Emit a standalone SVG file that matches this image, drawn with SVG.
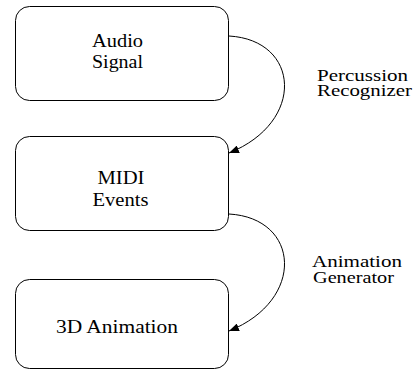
<svg xmlns="http://www.w3.org/2000/svg" width="416" height="370" viewBox="0 0 416 370">
<defs>
<style>
.box{fill:#fff;stroke:#000;stroke-width:1}
.t{font-family:"Liberation Serif","Times New Roman",serif;font-size:18.5px;fill:#000}
.l{font-family:"Liberation Serif","Times New Roman",serif;font-size:17px;fill:#000}
.edge{fill:none;stroke:#000;stroke-width:1}
</style>
<marker id="ah" markerWidth="10" markerHeight="8" refX="10" refY="4" orient="auto" markerUnits="userSpaceOnUse">
<path d="M0,0 L10,4 L0,8 Z" fill="#000"/>
</marker>
</defs>
<g id="audio">
<rect class="box" x="15.5" y="6.5" width="213" height="94" rx="14"/>
<text class="t" x="92" y="47" textLength="51" lengthAdjust="spacingAndGlyphs">Audio</text>
<text class="t" x="92" y="68" textLength="51" lengthAdjust="spacingAndGlyphs">Signal</text>
</g>
<g id="midi">
<rect class="box" x="15.5" y="136.5" width="213" height="94" rx="14"/>
<text class="t" x="97.5" y="184" textLength="47" lengthAdjust="spacingAndGlyphs">MIDI</text>
<text class="t" x="92.5" y="206" textLength="56" lengthAdjust="spacingAndGlyphs">Events</text>
</g>
<g id="anim">
<rect class="box" x="15.5" y="279.5" width="213" height="89" rx="14"/>
<text class="t" x="56" y="333" textLength="122" lengthAdjust="spacingAndGlyphs">3D Animation</text>
</g>
<g id="connectors">
<path class="edge" d="M229,36 C300,40 306,122 229,153" marker-end="url(#ah)"/>
<text class="l" x="317" y="81" textLength="91" lengthAdjust="spacingAndGlyphs">Percussion</text>
<text class="l" x="317" y="96" textLength="95" lengthAdjust="spacingAndGlyphs">Recognizer</text>
<path class="edge" d="M229,214 C300,218 306,300 229,331" marker-end="url(#ah)"/>
<text class="l" x="312" y="267" textLength="90" lengthAdjust="spacingAndGlyphs">Animation</text>
<text class="l" x="313" y="283" textLength="81" lengthAdjust="spacingAndGlyphs">Generator</text>
</g>
</svg>
